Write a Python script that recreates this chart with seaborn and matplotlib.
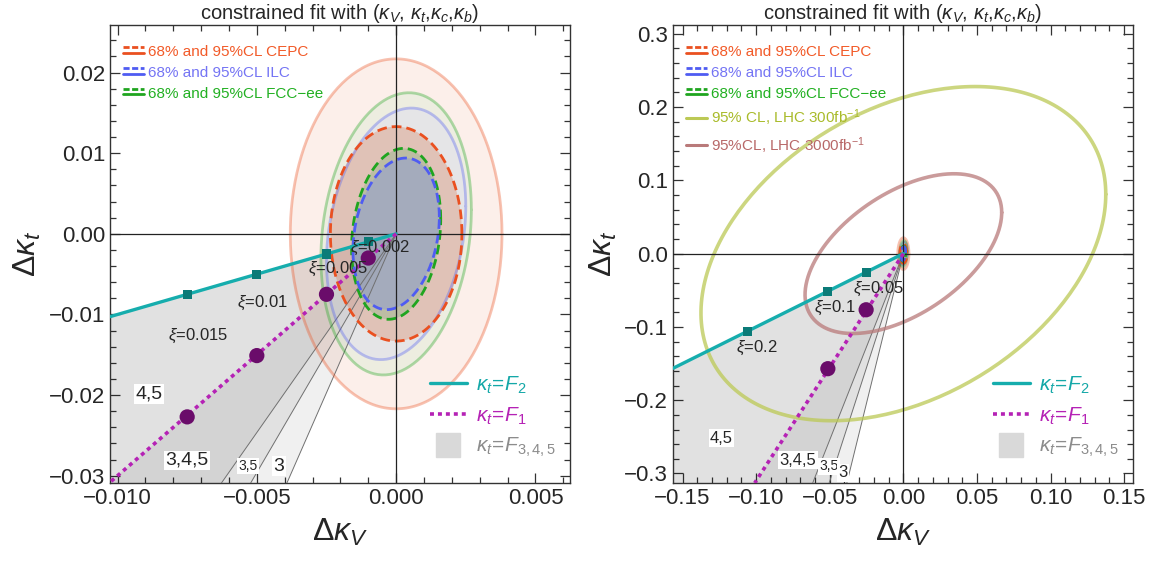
import numpy as np
import matplotlib
matplotlib.use('Agg')
import matplotlib.pyplot as plt
import seaborn as sns
from matplotlib.legend_handler import HandlerBase
from matplotlib.lines import Line2D
from matplotlib.ticker import MultipleLocator, FuncFormatter

# ---------------- values ----------------
# future e+e- fits: half-extent in dkV / dkt and correlation
fit_labels = ['68% and 95%CL CEPC', '68% and 95%CL ILC', '68% and 95%CL FCC\u2212ee']
fit_colors = ['#ea5020', '#4f5cf2', '#1fa51f']
fit_text_colors = ['#f25a28', '#7474f4', '#22b022']
fit95_fill = ['#eb6937', '#99e3a8', '#cecefd']   # CEPC, FCC, ILC order of stacking below
fit68_fill = ['#d5714b', '#6cb276', '#778bec']
fit95_dkv = [0.0038, 0.0025, 0.0027]
fit95_dkt = [0.0217, 0.0156, 0.0175]
fit68_dkv = [0.00236, 0.00155, 0.0016]
fit68_dkt = [0.0133, 0.0094, 0.0106]
fit_rho = [0.0, 0.22, 0.17]

# LHC 95% ellipses (right panel only)
lhc_labels = ['95% CL, LHC 300fb$^{-1}$', '95%CL, LHC 3000fb$^{-1}$']
lhc_colors = ['#bcc955', '#b97a7a']
lhc_text_colors = ['#a9bb2a', '#b86868']
lhc_dkv = [0.1375, 0.0668]
lhc_dkt = [0.228, 0.109]
lhc_rho = [0.355, 0.515]

# left panel: composite Higgs benchmarks
xi_left = ['0.002', '0.005', '0.01', '0.015']
f2_dkv_left = [-0.001, -0.0025, -0.005, -0.0075]
f2_dkt_left = [-0.001, -0.0025, -0.005, -0.0075]
f1_dkv_left = [-0.001, -0.0025, -0.005, -0.0075]
f1_dkt_left = [-0.003, -0.0075, -0.0151, -0.0227]
f2_line_left_x = [0.0, -0.01027]
f2_line_left_y = [0.0, -0.01027]
f1_line_left_x = [0.0, -0.0103]
f1_line_left_y = [0.0, -0.0309]
bound_left_x = [-0.00627, -0.00522, -0.00392]   # where the F3,4,5 edges meet the bottom
bound_left_y = -0.0309

# right panel
xi_right = ['0.05', '0.1', '0.2']
f2_dkv_right = [-0.0253, -0.0513, -0.1056]
f2_dkt_right = [-0.0253, -0.0513, -0.1056]
f1_dkv_right = [-0.0253, -0.0513]
f1_dkt_right = [-0.0766, -0.157]
f2_line_right_x = [0.0, -0.1565]
f2_line_right_y = [0.0, -0.1565]
f1_line_right_x = [0.0, -0.101]
f1_line_right_y = [0.0, -0.313]
bound_right_x = [-0.0616, -0.0504, -0.0384]
bound_right_y = -0.313

CYAN = '#16adad'
TEAL = '#0b7b78'
PURPLE = '#b522b5'
DPURPLE = '#6a0c6a'

sns.set_style('ticks')
plt.rcParams['font.family'] = ['Liberation Sans', 'DejaVu Sans']
plt.rcParams['mathtext.fontset'] = 'custom'
plt.rcParams['mathtext.rm'] = 'Liberation Sans'
plt.rcParams['mathtext.it'] = 'Liberation Sans:italic'
plt.rcParams['mathtext.bf'] = 'Liberation Sans:bold'


def ellipse(a, b, rho):
    t = np.linspace(0, 2 * np.pi, 240)
    return a * np.cos(t), b * (rho * np.cos(t) + np.sqrt(1 - rho ** 2) * np.sin(t))


class DoubleLine(HandlerBase):
    # dashed line above a solid one, like the Mathematica legend
    def create_artists(self, legend, orig_handle, xdescent, ydescent, width, height, fontsize, trans):
        c = orig_handle.get_color()
        top = Line2D([0, width], [0.85 * height, 0.85 * height], color=c, lw=2,
                     ls=(0, (2.2, 0.9)), transform=trans)
        bot = Line2D([0, width], [0.3 * height, 0.3 * height], color=c, lw=2, transform=trans)
        return [top, bot]


def minus_fmt(fmt):
    def f(v, pos):
        s = fmt % v
        if float(s) == 0:
            s = s.replace('-', '')
        return s.replace('-', '\u2212')
    return FuncFormatter(f)


def draw_panel(ax, f2lx, f2ly, f1lx, f1ly, bx, by, f2x, f2y, f1x, f1y, show_lhc):
    # F3,4,5 wedges (overlapping translucent fills)
    ax.fill([0, f1lx[1], bx[2]], [0, f1ly[1], by], color='black', alpha=0.06, lw=0, zorder=1)
    ax.fill([0, f2lx[1], f2lx[1], bx[0]], [0, f2ly[1], by, by], color='black', alpha=0.06, lw=0, zorder=1)
    ax.fill([0, f2lx[1], f2lx[1], bx[1]], [0, f2ly[1], by, by], color='black', alpha=0.06, lw=0, zorder=1)
    for x_end in bx:
        ax.plot([0, x_end], [0, by], color='#707070', lw=0.7, zorder=3)

    # ellipses: 95% fills (CEPC, FCC, ILC), then 68% fills
    order = [0, 2, 1]
    a95 = [0.10, 0.15, 0.25]
    a68 = [0.30, 0.30, 0.35]
    for k, i in enumerate(order):
        ex, ey = ellipse(fit95_dkv[i], fit95_dkt[i], fit_rho[i])
        ax.fill(ex, ey, color=fit95_fill[k], alpha=a95[k], lw=0, zorder=2)
    for k, i in enumerate(order):
        ex, ey = ellipse(fit68_dkv[i], fit68_dkt[i], fit_rho[i])
        ax.fill(ex, ey, color=fit68_fill[k], alpha=a68[k], lw=0, zorder=2)
    for i in range(3):
        ex, ey = ellipse(fit95_dkv[i], fit95_dkt[i], fit_rho[i])
        sns.lineplot(x=ex, y=ey, ax=ax, sort=False, estimator=None, color=fit_colors[i],
                     alpha=0.35, lw=2, zorder=4)
    for i in order:
        ex, ey = ellipse(fit68_dkv[i], fit68_dkt[i], fit_rho[i])
        sns.lineplot(x=ex, y=ey, ax=ax, sort=False, estimator=None, color=fit_colors[i],
                     lw=2, ls=(0, (3.5, 1.8)), zorder=4)
    if show_lhc:
        for i in range(2):
            ex, ey = ellipse(lhc_dkv[i], lhc_dkt[i], lhc_rho[i])
            sns.lineplot(x=ex, y=ey, ax=ax, sort=False, estimator=None, color=lhc_colors[i],
                         alpha=0.75, lw=2.6, zorder=4)

    ax.axhline(0, color='#222222', lw=0.9, zorder=4.5)
    ax.axvline(0, color='#222222', lw=0.9, zorder=4.5)

    sns.lineplot(x=f2lx, y=f2ly, ax=ax, sort=False, estimator=None, color=CYAN, lw=2.4, zorder=5)
    sns.lineplot(x=f1lx, y=f1ly, ax=ax, sort=False, estimator=None, color=PURPLE, lw=2.6,
                 ls=(0, (1.1, 1.1)), zorder=5)
    sns.scatterplot(x=f2x, y=f2y, ax=ax, marker='s', s=42, color=TEAL, edgecolor='none', zorder=6)
    sns.scatterplot(x=f1x, y=f1y, ax=ax, marker='o', s=120, color=DPURPLE, edgecolor='none', zorder=6)

    # legends
    handles = [Line2D([], [], color=c) for c in fit_colors]
    labels = list(fit_labels)
    hmap = {h: DoubleLine() for h in handles}
    tcols = list(fit_text_colors)
    if show_lhc:
        for i in range(2):
            handles.append(Line2D([], [], color=lhc_colors[i], lw=2.2))
            labels.append(lhc_labels[i])
            tcols.append(lhc_text_colors[i])
    leg = ax.legend(handles, labels, handler_map=hmap, loc='upper left', frameon=False,
                    fontsize=11, handlelength=1.4, handletextpad=0.25, labelspacing=0.45,
                    borderaxespad=0.45, bbox_to_anchor=(0.0, 0.985))
    for t, c in zip(leg.get_texts(), tcols):
        t.set_color(c)
    ax.add_artist(leg)

    h2 = [Line2D([], [], color=CYAN, lw=2.4),
          Line2D([], [], color=PURPLE, lw=2.6, ls=(0, (1.1, 1.1))),
          Line2D([], [], color='#d9d9d9', marker='s', ms=17, ls='none')]
    l2 = [r'$\kappa_t\!=\!F_2$', r'$\kappa_t\!=\!F_1$', r'$\kappa_t\!=\!F_{3,4,5}$']
    leg2 = ax.legend(h2, l2, loc='lower right', bbox_to_anchor=(1.0, 0.02), frameon=False,
                     fontsize=15, handlelength=1.8, handletextpad=0.4, labelspacing=0.45,
                     borderaxespad=0.3)
    for t, c in zip(leg2.get_texts(), ['#14a8a8', '#b522b5', '#8c8c8c']):
        t.set_color(c)

    ax.set_title(r'constrained fit with $(\kappa_V$, $\kappa_t$,$\kappa_c$,$\kappa_b)$',
                 fontsize=14.5, pad=1.5)
    ax.set_xlabel(r'$\Delta\kappa_V$', fontsize=23, labelpad=6)
    ax.set_ylabel(r'$\Delta\kappa_t$', fontsize=23, labelpad=4)
    ax.tick_params(which='both', direction='in', top=True, right=True, labelsize=16,
                   color='#333333', width=0.9)
    ax.tick_params(which='major', length=7)
    ax.tick_params(which='minor', length=4)
    for sp in ax.spines.values():
        sp.set_color('#333333')
        sp.set_linewidth(1.0)


fig = plt.figure(figsize=(11.56, 5.62), dpi=100)
ax1 = fig.add_axes([110 / 1156, 79 / 562, 460 / 1156, 458 / 562])
ax2 = fig.add_axes([673 / 1156, 79 / 562, 460 / 1156, 458 / 562])

draw_panel(ax1, f2_line_left_x, f2_line_left_y, f1_line_left_x, f1_line_left_y,
           bound_left_x, bound_left_y, f2_dkv_left, f2_dkt_left, f1_dkv_left, f1_dkt_left, False)
draw_panel(ax2, f2_line_right_x, f2_line_right_y, f1_line_right_x, f1_line_right_y,
           bound_right_x, bound_right_y, f2_dkv_right, f2_dkt_right, f1_dkv_right, f1_dkt_right, True)

ax1.set_xlim(-0.01027, 0.00624)
ax1.set_ylim(-0.0309, 0.0259)
ax1.xaxis.set_major_locator(MultipleLocator(0.005))
ax1.xaxis.set_minor_locator(MultipleLocator(0.001))
ax1.yaxis.set_major_locator(MultipleLocator(0.01))
ax1.yaxis.set_minor_locator(MultipleLocator(0.002))
ax1.xaxis.set_major_formatter(minus_fmt('%.3f'))
ax1.yaxis.set_major_formatter(minus_fmt('%.2f'))

ax2.set_xlim(-0.1565, 0.156)
ax2.set_ylim(-0.313, 0.312)
ax2.xaxis.set_major_locator(MultipleLocator(0.05))
ax2.xaxis.set_minor_locator(MultipleLocator(0.01))
ax2.yaxis.set_major_locator(MultipleLocator(0.1))
ax2.yaxis.set_minor_locator(MultipleLocator(0.02))
ax2.xaxis.set_major_formatter(minus_fmt('%.2f'))
ax2.yaxis.set_major_formatter(minus_fmt('%.1f'))

# xi labels and wedge labels
box = dict(facecolor='white', edgecolor='none', pad=1.0)
xi_pos_left = [(-0.00059, -0.0017), (-0.0021, -0.0043), (-0.0048, -0.0085), (-0.0071, -0.0127)]
for lab, (x, y) in zip(xi_left, xi_pos_left):
    ax1.text(x, y, r'$\xi$=' + lab, fontsize=12, ha='center', va='center', zorder=7)
for lab, (x, y), fs in zip(['4,5', '3,4,5', '3,5', '3'],
                           [(-0.00886, -0.0199), (-0.0075, -0.0281), (-0.0053, -0.0288), (-0.0042, -0.0288)],
                           [14, 14, 10, 14]):
    ax1.text(x, y, lab, fontsize=fs, ha='center', va='center', bbox=box, zorder=7)

xi_pos_right = [(-0.0172, -0.0477), (-0.0464, -0.0737), (-0.0999, -0.128)]
for lab, (x, y) in zip(xi_right, xi_pos_right):
    ax2.text(x, y, r'$\xi$=' + lab, fontsize=12, ha='center', va='center', zorder=7)
for lab, (x, y), fs in zip(['4,5', '3,4,5', '3,5', '3'],
                           [(-0.1235, -0.252), (-0.0717, -0.282), (-0.0506, -0.290), (-0.041, -0.299)],
                           [12, 12, 10, 12]):
    ax2.text(x, y, lab, fontsize=fs, ha='center', va='center', bbox=box, zorder=7)

fig.savefig('out.png', dpi=100)
